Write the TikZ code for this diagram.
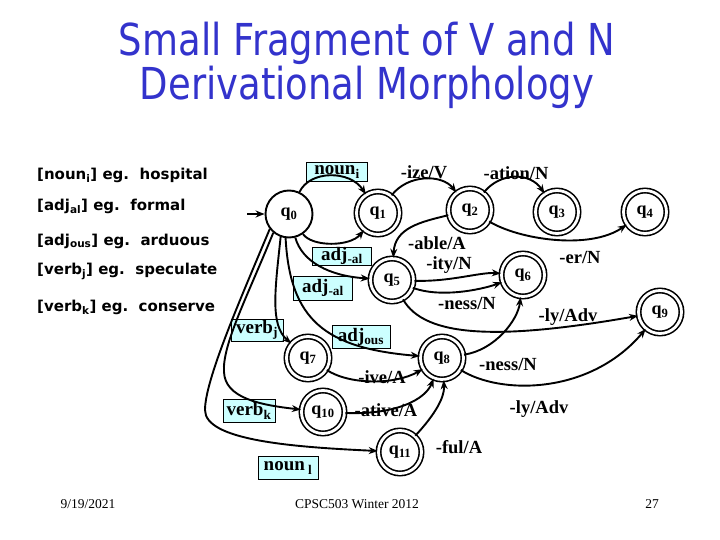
\documentclass[tikz,border=0pt]{standalone}
\usepackage{fontspec}
\usepackage{graphicx}
\setmainfont{Liberation Serif}
\newfontfamily\ttlfont{DejaVu Sans}
\newfontfamily\cmcfont{DejaVu Sans}
\usetikzlibrary{arrows.meta}
\definecolor{ttlblue}{RGB}{51,51,204}
\definecolor{lblcyan}{RGB}{204,255,255}
\begin{document}
\begin{tikzpicture}[x=1pt,y=-1pt,
  st/.style={circle,draw,line width=1.9pt,minimum size=47pt,inner sep=0pt,font=\bfseries\fontsize{18}{18}\selectfont},
  acc/.style={circle,draw,line width=1.6pt,double,double distance=2.8pt,minimum size=43pt,inner sep=0pt,font=\bfseries\fontsize{18}{18}\selectfont},
  tr/.style={draw,line width=1.9pt,-{Stealth[length=9pt,width=7pt]}},
  lbl/.style={inner sep=0pt,font=\bfseries\fontsize{18.5}{18.5}\selectfont},
  lbox/.style={draw,line width=0.7pt,fill=lblcyan,inner sep=0pt,font=\bfseries\fontsize{19}{19}\selectfont},
  side/.style={anchor=west,inner sep=0pt,font=\cmcfont\bfseries\fontsize{15}{15}\selectfont},
  foot/.style={inner sep=0pt,font=\fontsize{13.5}{14}\selectfont},
  ttl/.style={anchor=base,inner sep=0pt,text=ttlblue,font=\ttlfont\fontsize{44}{44}\selectfont}]

\useasboundingbox[fill=white] (0,0) rectangle (720,540);

% title
\node[ttl] (t1) at (367,56) {\scalebox{0.84}[1]{Small Fragment of V and N}};
\node[ttl] (t2) at (367,100) {\scalebox{0.84}[1]{Derivational Morphology}};

% left legend
\node[side] (l1) at (37,175) {[noun\textsubscript{i}] eg.\ \ hospital};
\node[side] (l2) at (37,206) {[adj\textsubscript{al}] eg.\ \ formal};
\node[side] (l3) at (37,241) {[adj\textsubscript{ous}] eg.\ \ arduous};
\node[side] (l4) at (37,271) {[verb\textsubscript{j}] eg.\ \ speculate};
\node[side] (l5) at (37,307) {[verb\textsubscript{k}] eg.\ \ conserve};

% label boxes
\node[lbox,minimum width=61pt,minimum height=19pt] (bni) at (337,172) {noun\textsubscript{i}};
\node[lbox,minimum width=59pt,minimum height=18pt] (bal1) at (342,256) {adj\textsubscript{-al}};
\node[lbox,minimum width=59pt,minimum height=24pt] (bal2) at (323,288) {adj\textsubscript{-al}};
\node[lbox,minimum width=52pt,minimum height=22pt] (bvj) at (257,330) {verb\textsubscript{j}};
\node[lbox,minimum width=58pt,minimum height=23pt] (bous) at (361,337) {adj\textsubscript{ous}};
\node[lbox,minimum width=52pt,minimum height=23pt] (bvk) at (249,411) {verb\textsubscript{k}};
\node[lbox,minimum width=60pt,minimum height=23pt] (bnl) at (288,468) {noun\,\textsubscript{l}};

% states
\node[st] (q0) at (289,214) {q\textsubscript{0}};
\node[acc] (q1) at (378,213) {q\textsubscript{1}};
\node[acc] (q2) at (470,210) {q\textsubscript{2}};
\node[acc] (q3) at (557,212) {q\textsubscript{3}};
\node[acc] (q4) at (645,212) {q\textsubscript{4}};
\node[acc] (q5) at (392,280) {q\textsubscript{5}};
\node[acc] (q6) at (523,275) {q\textsubscript{6}};
\node[acc] (q9) at (660,312) {q\textsubscript{9}};
\node[acc] (q7) at (308,358) {q\textsubscript{7}};
\node[acc] (q8) at (442,358) {q\textsubscript{8}};
\node[acc] (q10) at (323,412) {q\textsubscript{10}};
\node[acc] (q11) at (400,452) {q\textsubscript{11}};

% transitions
\coordinate (s0) at (247,214);
\draw[tr] (s0) -- (q0);
\draw[tr] (q0) .. controls (310,170) and (350,170) .. (q1);
\draw[tr] (q0) .. controls (312,247) and (350,247) .. (q1);
\draw[tr] (q1) .. controls (408,174) and (442,174) .. (q2);
\draw[tr] (q2) .. controls (500,172) and (530,172) .. (q3);
\draw[tr] (q2) .. controls (520,240) and (590,250) .. (q4);
\draw[tr] (q2) .. controls (420,222) and (395,228) .. (q5);
\draw[tr] (q5) .. controls (450,282) and (480,272) .. (q6);
\draw[tr] (q5) .. controls (440,298) and (480,290) .. (q6);
\draw[tr] (q5) .. controls (425,338) and (500,340) .. (q9);
\draw[tr] (q8) .. controls (495,350) and (518,320) .. (q6);
\draw[tr] (q8) .. controls (500,395) and (590,395) .. (q9);
\draw[tr] (q7) .. controls (350,385) and (395,385) .. (q8);
\draw[tr] (q10) .. controls (395,415) and (425,400) .. (q8);
\draw[tr] (q11) .. controls (430,420) and (445,400) .. (q8);
\draw[tr] (q0.285) .. controls (302,262) and (330,276) .. (q5);
\draw[tr] (q0.262) .. controls (290,320) and (325,348) .. (q8);
\draw[tr] (q0.250) .. controls (275,290) and (270,325) .. (q7);
\draw[tr] (q0.230) .. controls (248,295) and (222,345) .. (224,372) .. controls (225,398) and (260,405) .. (q10);
\draw[tr] (q0.218) .. controls (240,300) and (205,380) .. (205,410) .. controls (205,440) and (290,447) .. (q11);

% transition labels
\node[lbl] (e1) at (424,172) {-ize/V};
\node[lbl] (e2) at (516,173) {-ation/N};
\node[lbl] (e3) at (437,243) {-able/A};
\node[lbl] (e4) at (449,265) {-ity/N};
\node[lbl] (e5) at (467,303) {-ness/N};
\node[lbl] (e6) at (580,257) {-er/N};
\node[lbl] (e7) at (568,317) {-ly/Adv};
\node[lbl] (e8) at (382,377) {-ive/A};
\node[lbl] (e9) at (508,364) {-ness/N};
\node[lbl] (e10) at (386,410) {-ative/A};
\node[lbl] (e11) at (539,409) {-ly/Adv};
\node[lbl] (e12) at (459,447) {-ful/A};

% footer
\node[foot] (f1) at (88,504) {9/19/2021};
\node[foot] (f2) at (357,504) {CPSC503 Winter 2012};
\node[foot] (f3) at (652,504) {27};
\end{tikzpicture}
\end{document}
